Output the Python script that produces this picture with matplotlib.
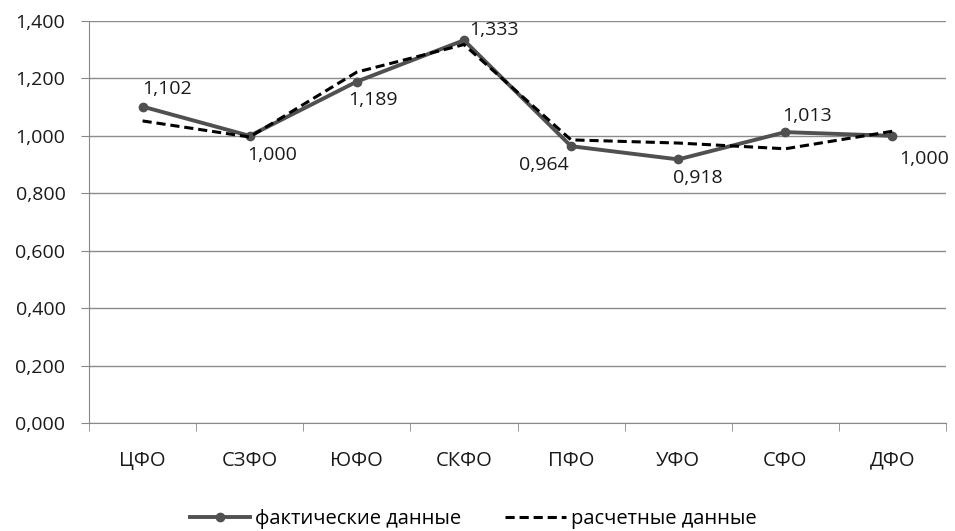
import matplotlib
matplotlib.use("Agg")
import matplotlib.pyplot as plt
import numpy as np

plt.rcParams['font.family'] = ['Open Sans', 'DejaVu Sans']

okruga = ["ЦФО", "СЗФО", "ЮФО", "СКФО", "ПФО", "УФО", "СФО", "ДФО"]
fakt = [1.102, 1.000, 1.189, 1.333, 0.964, 0.918, 1.013, 1.000]
raschet = [1.052, 0.996, 1.222, 1.318, 0.986, 0.975, 0.955, 1.016]

# label offsets in points (like excel data label placement)
offs = [(0, 6), (-2, -7), (-6, -7), (4, 1), (-2, -7), (-4, -7), (-2, 5), (5, -10)]
has = ["left", "left", "left", "left", "right", "left", "left", "left"]

fs = 14
fig = plt.figure(figsize=(9.55, 5.31), dpi=100)
ax = fig.add_axes([89/955, 1-423/531, (946-89)/955, (423-21)/531])

x = np.arange(len(okruga))
ax.plot(x, fakt, color="#505050", lw=2.8, marker="o", ms=6, label="фактические данные", zorder=3)
ax.plot(x, raschet, color="black", lw=2.2, ls=(0, (3, 1.6)), label="расчетные данные", zorder=4)

for i, v in enumerate(fakt):
    ax.annotate(f"{v:.3f}".replace(".", ","), (x[i], v), xytext=offs[i], textcoords="offset points",
                ha=has[i], va="bottom" if offs[i][1] > 0 else "top", fontsize=fs, color="#1a1a1a")

ax.set_xlim(-0.5, len(okruga) - 0.5)
ax.set_ylim(0, 1.4)
ax.set_yticks(np.arange(0, 1.41, 0.2))
ax.set_yticklabels([f"{t:.3f}".replace(".", ",") for t in np.arange(0, 1.41, 0.2)])
ax.set_xticks(x)
ax.set_xticklabels(okruga)
ax.set_xticks(np.arange(-0.5, len(okruga)), minor=True)
ax.tick_params(axis="x", which="major", length=0, pad=20, labelsize=14.5, labelcolor="#1a1a1a")
ax.tick_params(axis="x", which="minor", length=6, color="#888888", direction="out")
ax.tick_params(axis="y", length=6, color="#888888", labelsize=fs, labelcolor="#1a1a1a", pad=11)
ax.grid(axis="y", color="#8c8c8c", lw=1)
ax.set_axisbelow(True)
for s in ["top", "right"]:
    ax.spines[s].set_visible(False)
ax.spines["left"].set_color("#888888")
ax.spines["bottom"].set_color("#888888")

fig.legend(loc="center", bbox_to_anchor=(473/955, 1-519/531), ncol=2, frameon=False, fontsize=14.5,
           handlelength=3.0, handletextpad=0.25, columnspacing=2.2, borderpad=0)

fig.savefig("out.png", dpi=100)
